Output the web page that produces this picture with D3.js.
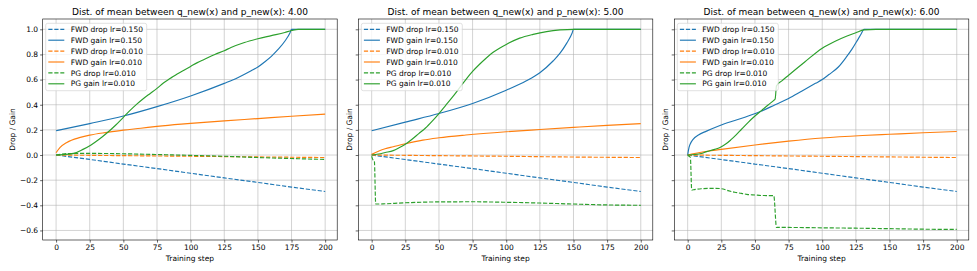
<!DOCTYPE html>
<html>
<head>
<meta charset="utf-8">
<script src="https://cdn.jsdelivr.net/npm/d3@7"></script>
<style>
  html, body { margin: 0; padding: 0; background: #fff; }
  svg { display: block; font-family: "DejaVu Sans", sans-serif; }
</style>
</head>
<body>
<svg id="chart" width="977" height="271"></svg>
<script>
// ---- data ----
const distLabels = ["4.00", "5.00", "6.00"];
const seriesLabels = [
    "FWD drop lr=0.150", "FWD gain lr=0.150",
    "FWD drop lr=0.010", "FWD gain lr=0.010",
    "PG drop lr=0.010", "PG gain lr=0.010"
];
const xTicks = [0, 25, 50, 75, 100, 125, 150, 175, 200];
const yTicks = [-0.6, -0.4, -0.2, 0.0, 0.2, 0.4, 0.6, 0.8, 1.0];

// dist 4.00
const d4FwdDropHi = [[0, 0], [25, -0.035], [50, -0.072], [75, -0.108], [100, -0.145], [125, -0.182], [150, -0.218], [175, -0.255], [200, -0.29]];
const d4FwdGainHi = [[0, 0.193], [25, 0.25], [50, 0.31], [75, 0.385], [100, 0.47], [125, 0.57], [135, 0.615], [145, 0.67], [150, 0.70], [155, 0.74], [160, 0.785], [165, 0.84], [170, 0.905], [174, 0.975], [175, 1.0], [200, 1.0]];
const d4FwdDropLo = [[0, 0], [50, -0.005], [100, -0.01], [150, -0.015], [200, -0.02]];
const d4FwdGainLo = [[0, 0.018], [3, 0.06], [8, 0.1], [18, 0.14], [25, 0.158], [38, 0.18], [50, 0.198], [63, 0.213], [75, 0.228], [93, 0.246], [100, 0.252], [125, 0.272], [150, 0.29], [175, 0.308], [200, 0.325]];
const d4PgDrop = [[0, 0], [10, 0.012], [25, 0.013], [50, 0.01], [75, 0.004], [100, -0.003], [125, -0.01], [150, -0.02], [175, -0.028], [200, -0.035]];
const d4PgGain = [[0, 0], [5, 0.003], [13, 0.013], [20, 0.045], [26, 0.08], [32, 0.125], [38, 0.177], [44, 0.235], [50, 0.30], [55, 0.355], [60, 0.405], [65, 0.45], [70, 0.49], [75, 0.53], [80, 0.575], [85, 0.61], [90, 0.645], [95, 0.675], [100, 0.705], [105, 0.735], [110, 0.76], [118, 0.80], [125, 0.83], [130, 0.855], [140, 0.895], [150, 0.925], [160, 0.95], [170, 0.975], [175, 0.99], [180, 1.0], [200, 1.0]];

// dist 5.00
const d5FwdDropHi = [[0, 0], [25, -0.036], [50, -0.072], [75, -0.108], [100, -0.145], [125, -0.182], [150, -0.218], [175, -0.255], [200, -0.29]];
const d5FwdGainHi = [[0, 0.193], [25, 0.262], [50, 0.33], [75, 0.41], [100, 0.515], [115, 0.59], [125, 0.655], [135, 0.75], [140, 0.81], [145, 0.89], [149, 0.97], [150, 1.0], [200, 1.0]];
const d5FwdDropLo = [[0, 0], [50, -0.005], [100, -0.01], [150, -0.016], [200, -0.02]];
const d5FwdGainLo = [[0, 0.005], [5, 0.03], [10, 0.05], [16, 0.066], [25, 0.09], [38, 0.119], [50, 0.137], [70, 0.159], [100, 0.185], [125, 0.203], [150, 0.22], [175, 0.236], [200, 0.25]];
const d5PgDrop = [[0, -0.01], [1, -0.04], [2, -0.05], [3, -0.39], [5, -0.39], [10, -0.388], [25, -0.38], [50, -0.373], [75, -0.372], [100, -0.376], [125, -0.382], [150, -0.39], [175, -0.397], [200, -0.4]];
const d5PgGain = [[0, 0], [5, 0.008], [10, 0.02], [16, 0.035], [20, 0.055], [25, 0.085], [30, 0.125], [35, 0.17], [40, 0.215], [45, 0.27], [50, 0.33], [55, 0.395], [60, 0.46], [65, 0.53], [70, 0.6], [75, 0.665], [80, 0.72], [85, 0.77], [90, 0.815], [95, 0.85], [100, 0.88], [110, 0.93], [120, 0.96], [130, 0.982], [140, 0.995], [150, 1.0], [200, 1.0]];

// dist 6.00
const d6FwdDropHi = [[0, 0], [25, -0.036], [50, -0.072], [75, -0.108], [100, -0.145], [125, -0.182], [150, -0.218], [175, -0.255], [200, -0.29]];
const d6FwdGainHi = [[0, 0], [1, 0.06], [2, 0.09], [4, 0.125], [8, 0.16], [14, 0.19], [24, 0.235], [35, 0.275], [45, 0.31], [55, 0.35], [65, 0.4], [75, 0.45], [85, 0.51], [95, 0.57], [100, 0.6], [105, 0.64], [112, 0.70], [118, 0.78], [122, 0.84], [126, 0.91], [129, 0.965], [131, 1.0], [200, 1.0]];
const d6FwdDropLo = [[0, 0], [50, -0.005], [100, -0.01], [150, -0.015], [200, -0.02]];
const d6FwdGainLo = [[0, 0], [5, 0.012], [10, 0.022], [25, 0.045], [50, 0.08], [75, 0.11], [100, 0.135], [130, 0.155], [150, 0.165], [175, 0.177], [200, 0.187]];
const d6PgDrop = [[0, 0], [1, -0.01], [2, -0.02], [3, -0.278], [5, -0.275], [10, -0.268], [20, -0.265], [25, -0.268], [30, -0.283], [35, -0.296], [40, -0.305], [44, -0.313], [50, -0.318], [55, -0.322], [64, -0.323], [66, -0.575], [75, -0.576], [100, -0.579], [125, -0.582], [150, -0.586], [175, -0.59], [200, -0.592]];
const d6PgGain = [[0, 0], [5, 0.004], [10, 0.012], [14, 0.027], [20, 0.045], [24, 0.06], [28, 0.085], [32, 0.12], [36, 0.16], [40, 0.205], [45, 0.26], [50, 0.31], [55, 0.355], [60, 0.40], [64, 0.435], [65, 0.445], [66, 0.55], [70, 0.59], [75, 0.635], [87, 0.74], [100, 0.85], [110, 0.907], [118, 0.945], [125, 0.973], [131, 0.995], [140, 1.0], [200, 1.0]];

const panelSeries = [
    [d4FwdDropHi, d4FwdGainHi, d4FwdDropLo, d4FwdGainLo, d4PgDrop, d4PgGain],
    [d5FwdDropHi, d5FwdGainHi, d5FwdDropLo, d5FwdGainLo, d5PgDrop, d5PgGain],
    [d6FwdDropHi, d6FwdGainHi, d6FwdDropLo, d6FwdGainLo, d6PgDrop, d6PgGain]
];

// ---- styles / layout ----
const seriesColors = ["#1f77b4", "#1f77b4", "#ff7f0e", "#ff7f0e", "#2ca02c", "#2ca02c"];
const seriesDashed = [true, false, true, false, true, false];
const panelLeft = [42.7, 358.3, 674.3];
const panelWidth = 294.5;
const plotTop = 19, plotBottom = 240;

const svg = d3.select("#chart");

const y = d3.scaleLinear().domain([-0.676, 1.082]).range([plotBottom, plotTop]);
const fmtY = d => d3.format(".1f")(d).replace("-", "\u2212");

panelSeries.forEach((seriesList, pi) => {
    const left = panelLeft[pi];
    const x = d3.scaleLinear().domain([-9.95, 208.95]).range([left, left + panelWidth]);
    const g = svg.append("g");

    // grid
    g.append("g").selectAll("line").data(xTicks).enter().append("line")
        .attr("x1", d => x(d)).attr("x2", d => x(d))
        .attr("y1", plotTop).attr("y2", plotBottom)
        .attr("stroke", "#b0b0b0").attr("stroke-opacity", 0.7).attr("stroke-width", 0.8);
    g.append("g").selectAll("line").data(yTicks).enter().append("line")
        .attr("x1", left).attr("x2", left + panelWidth)
        .attr("y1", d => y(d)).attr("y2", d => y(d))
        .attr("stroke", "#b0b0b0").attr("stroke-opacity", 0.7).attr("stroke-width", 0.8);

    // lines
    const line = d3.line()
        .x(d => x(d[0]))
        .y(d => y(d[1]))
        .curve(d3.curveMonotoneX);

    const clipId = "clip" + pi;
    svg.append("clipPath").attr("id", clipId).append("rect")
        .attr("x", left).attr("y", plotTop).attr("width", panelWidth).attr("height", plotBottom - plotTop);

    g.append("g").attr("clip-path", "url(#" + clipId + ")")
        .selectAll("path").data(seriesList).enter().append("path")
        .attr("d", line)
        .attr("fill", "none")
        .attr("stroke", (d, i) => seriesColors[i])
        .attr("stroke-width", 1.15)
        .attr("stroke-dasharray", (d, i) => seriesDashed[i] ? "4.2,1.8" : null);

    // axes
    const xAxis = d3.axisBottom(x).tickValues(xTicks).tickSize(2.6).tickPadding(2);
    const gx = g.append("g").attr("transform", `translate(0,${plotBottom})`).call(xAxis);
    const yAxis = d3.axisLeft(y).tickValues(yTicks).tickSize(2.6).tickPadding(2)
        .tickFormat(pi === 0 ? fmtY : "");
    const gy = g.append("g").attr("transform", `translate(${left},0)`).call(yAxis);
    [gx, gy].forEach(a => {
        a.select(".domain").remove();
        a.selectAll(".tick line").attr("stroke", "#000").attr("stroke-width", 0.6);
        a.selectAll(".tick text").attr("font-size", 7.5).attr("fill", "#000")
            .attr("font-family", "DejaVu Sans, sans-serif");
    });

    // spines
    g.append("rect")
        .attr("x", left).attr("y", plotTop)
        .attr("width", panelWidth).attr("height", plotBottom - plotTop)
        .attr("fill", "none").attr("stroke", "#000").attr("stroke-width", 0.6);

    // title and labels
    g.append("text")
        .attr("x", left + panelWidth / 2).attr("y", 15)
        .attr("text-anchor", "middle").attr("font-size", 9)
        .text("Dist. of mean between q_new(x) and p_new(x): " + distLabels[pi]);
    g.append("text")
        .attr("x", left + panelWidth / 2).attr("y", 261)
        .attr("text-anchor", "middle").attr("font-size", 7.5)
        .text("Training step");
    const ylx = pi === 0 ? left - 27.7 : left - 6.8;
    g.append("text")
        .attr("transform", `translate(${ylx},${(plotTop + plotBottom) / 2}) rotate(-90)`)
        .attr("text-anchor", "middle").attr("font-size", 7.5)
        .text("Drop / Gain");

    // legend
    const lg = g.append("g").attr("transform", `translate(${left + 3},${plotTop + 4.3})`);
    lg.append("rect")
        .attr("width", 101).attr("height", 67.4).attr("rx", 2)
        .attr("fill", "#fff").attr("fill-opacity", 0.8)
        .attr("stroke", "#cccccc").attr("stroke-width", 0.6);
    seriesLabels.forEach((lab, i) => {
        const cy = 6 + i * 10.9;
        lg.append("line")
            .attr("x1", 2.6).attr("x2", 18.6).attr("y1", cy).attr("y2", cy)
            .attr("stroke", seriesColors[i]).attr("stroke-width", 1.15)
            .attr("stroke-dasharray", seriesDashed[i] ? "4.2,1.8" : null);
        lg.append("text")
            .attr("x", 25).attr("y", cy + 2.7)
            .attr("font-size", 7.5).text(lab);
    });
});
</script>
</body>
</html>
